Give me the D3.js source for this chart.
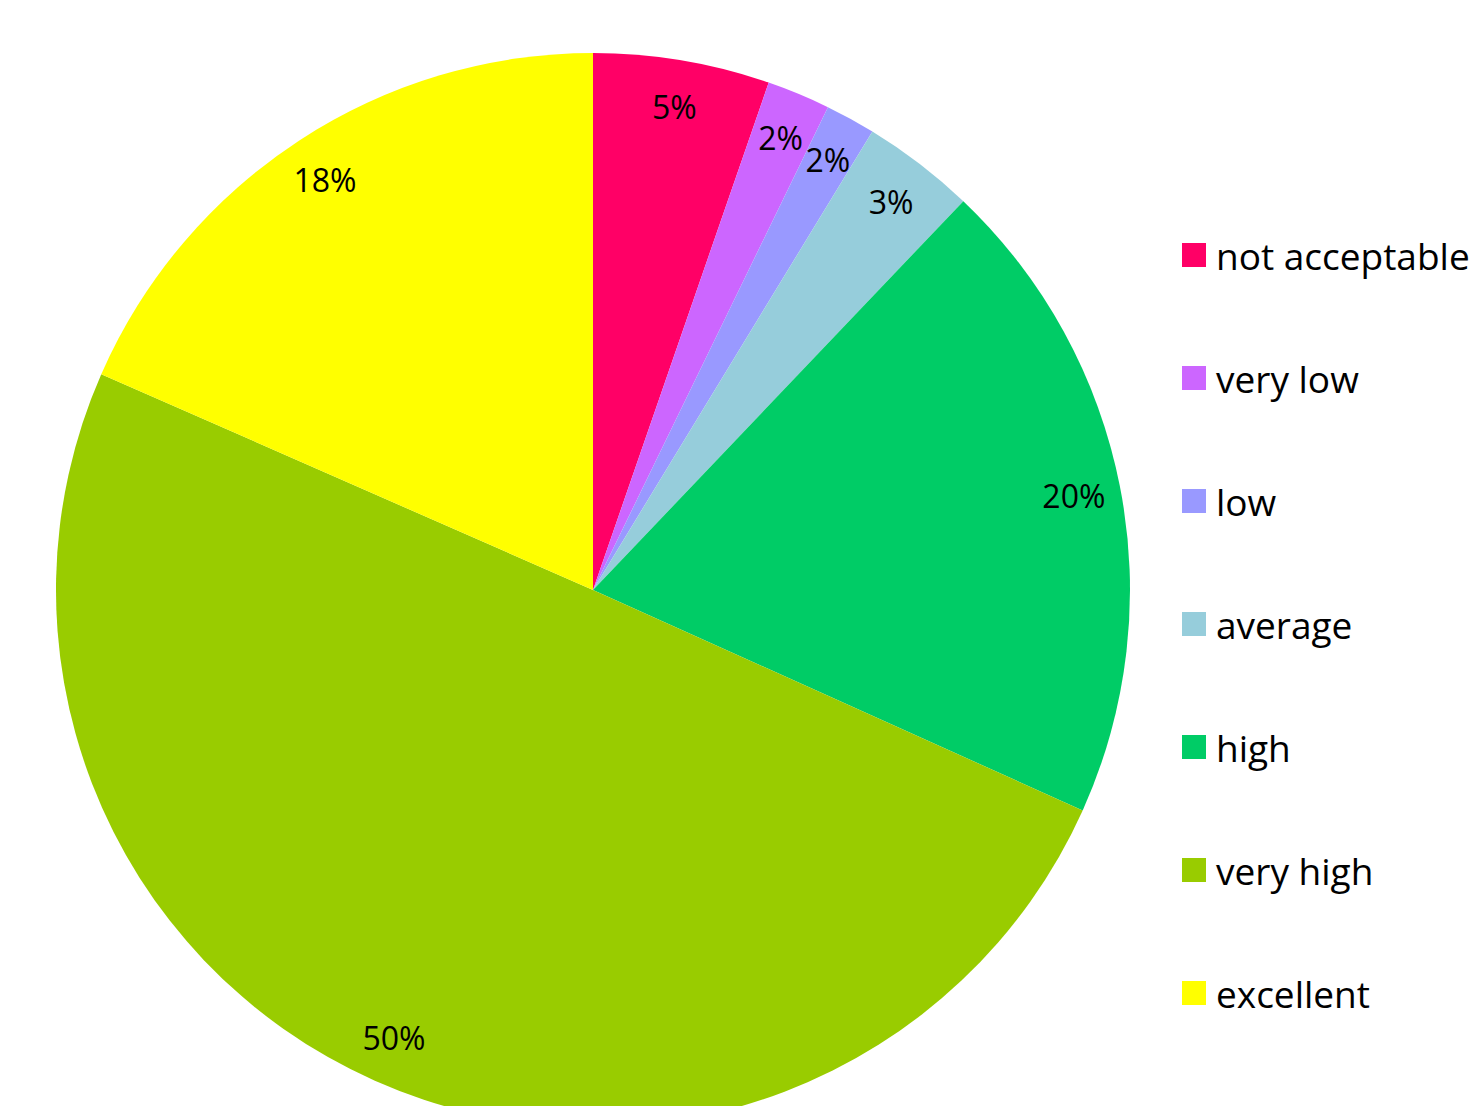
<!DOCTYPE html>
<html>
<head>
<meta charset="utf-8">
<script src="https://cdn.jsdelivr.net/npm/d3@7"></script>
<style>
  html, body { margin: 0; padding: 0; background: #ffffff; }
  svg { display: block; }
  text { font-family: "Open Sans", "Noto Sans", sans-serif; fill: #000; }
</style>
</head>
<body>
<svg id="chart" width="1479" height="1106"></svg>
<script>
// Rating categories, in clockwise order starting at 12 o'clock
const categories = ["not acceptable", "very low", "low", "average", "high", "very high", "excellent"];
// Share of responses per category (percent)
const shares = [5.3, 1.9, 1.5, 3.4, 19.6, 49.8, 18.4];
const colors = ["#FF0066", "#CC66FF", "#9999FF", "#96CDDB", "#00CC66", "#99CC00", "#FFFF00"];

const svg = d3.select("#chart");
const cx = 593, cy = 590, radius = 537, labelRadius = 490;

const data = categories.map((c, i) => ({ category: c, value: shares[i], color: colors[i] }));
const total = d3.sum(shares);

const pie = d3.pie().value(d => d.value).sort(null).startAngle(0).endAngle(2 * Math.PI);
const arcs = pie(data);

const arc = d3.arc().innerRadius(0).outerRadius(radius);
const labelArc = d3.arc().innerRadius(labelRadius).outerRadius(labelRadius);

const g = svg.append("g").attr("transform", `translate(${cx},${cy})`);

g.selectAll("path.slice")
  .data(arcs)
  .join("path")
  .attr("class", "slice")
  .attr("d", arc)
  .attr("fill", d => d.data.color);

g.selectAll("text.pct")
  .data(arcs)
  .join("text")
  .attr("class", "pct")
  .attr("transform", d => `translate(${labelArc.centroid(d)})`)
  .attr("text-anchor", "middle")
  .attr("dominant-baseline", "central")
  .attr("font-size", 32)
  .text(d => Math.round(d.data.value / total * 100) + "%");

// Legend on the right
const legendY = d3.scalePoint().domain(categories).range([255, 993]);
const legend = svg.append("g");
const items = legend.selectAll("g.item")
  .data(data)
  .join("g")
  .attr("class", "item")
  .attr("transform", d => `translate(1182,${legendY(d.category)})`);

items.append("rect")
  .attr("x", 0).attr("y", -12)
  .attr("width", 24).attr("height", 24)
  .attr("fill", d => d.color);

items.append("text")
  .attr("x", 34)
  .attr("y", 0)
  .attr("dominant-baseline", "central")
  .attr("font-size", 37)
  .text(d => d.category);
</script>
</body>
</html>
